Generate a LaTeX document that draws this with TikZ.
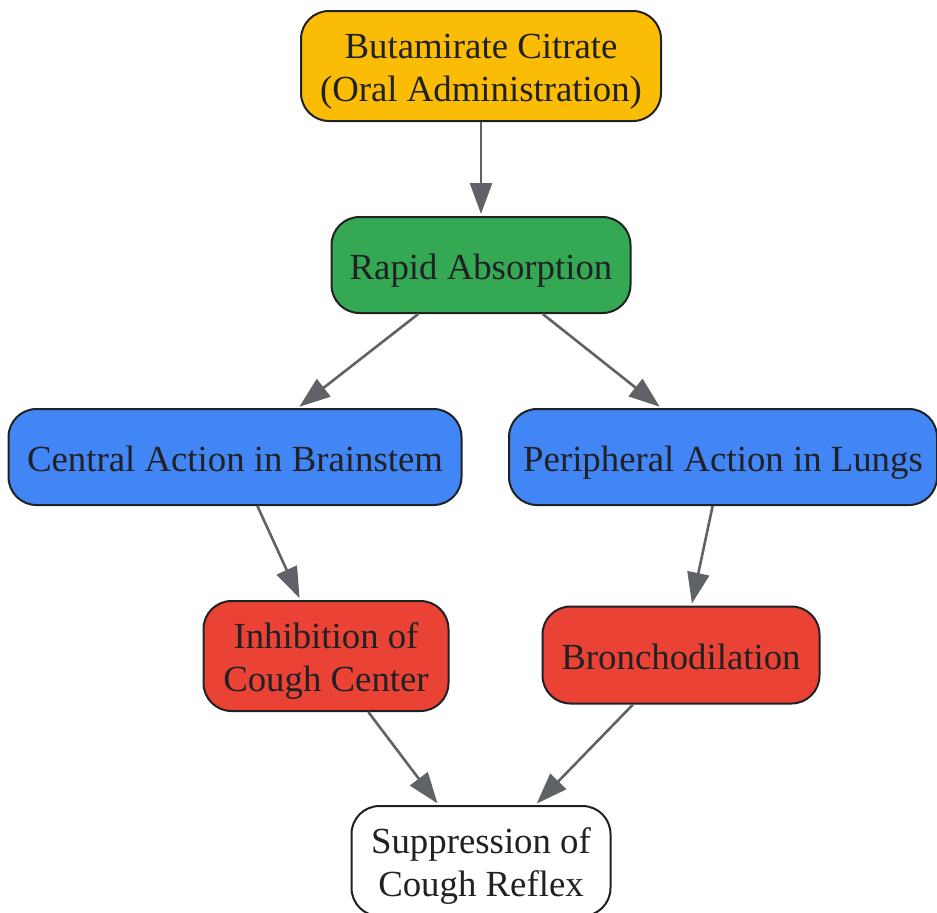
\documentclass[tikz,border=0pt]{standalone}
\usepackage{fontspec}
\setmainfont{Liberation Serif}
\usepackage{tikz}
\usetikzlibrary{%
  positioning
 ,arrows.meta
}
\definecolor{drugyellow}{HTML}{FBBC05}
\definecolor{absgreen}{HTML}{34A853}
\definecolor{actblue}{HTML}{4285F4}
\definecolor{effred}{HTML}{EA4335}
\definecolor{edgegray}{HTML}{5F6368}
\definecolor{inkdark}{HTML}{202124}
\newcommand{\stagestrut}{\rule[-5pt]{0pt}{24pt}}
\tikzstyle{flow}=[shorten >=1pt,on grid,inner sep=2pt]
\tikzstyle{stage}=[rectangle,rounded corners=14pt,draw=inkdark,line width=1pt,text=inkdark,align=center,inner sep=4pt,
  execute at begin node=\stagestrut,execute at end node=\stagestrut]
\tikzstyle{link}=[color=edgegray,line width=1.3pt,-{Triangle[length=15.5pt,width=11pt]}]

\begin{document}
\begin{tikzpicture}[flow,font=\fontsize{18.4pt}{21.75pt}\selectfont]
  \useasboundingbox (0,0) rectangle (468.5pt,-456pt);
  \node[stage,fill=drugyellow,minimum width=180pt,minimum height=55pt] (butamirate) at (240.5pt,-33pt) {\stagestrut Butamirate Citrate\\(Oral Administration)};
  \node[stage,fill=absgreen,minimum width=149.5pt,minimum height=48pt] (rapid) [below=99.5pt of butamirate] {Rapid Absorption};
  \node[stage,fill=actblue,minimum width=226.5pt,minimum height=48pt] (central) [below left=96pt and 123pt of rapid] {Central Action in Brainstem};
  \node[stage,fill=actblue,minimum width=214pt,minimum height=48pt] (peripheral) [below right=96pt and 121pt of rapid] {Peripheral Action in Lungs};
  \node[stage,fill=effred,minimum width=122.5pt,minimum height=55pt] (inhibition) [below right=99.5pt and 45.5pt of central] {\stagestrut Inhibition of\\Cough Center};
  \node[stage,fill=effred,minimum width=138.5pt,minimum height=48.5pt] (broncho) [below left=99pt and 21pt of peripheral] {Bronchodilation};
  \node[stage,fill=white,minimum width=129.5pt,minimum height=55pt] (suppression) [below=298pt of rapid] {\stagestrut Suppression of\\Cough Reflex};
% 
  \path[link]
  (butamirate) edge (rapid)
  (rapid) edge (central)
  (rapid) edge (peripheral)
  (central) edge (inhibition)
  (peripheral) edge (broncho)
  (inhibition) edge (suppression)
  (broncho) edge (suppression);
\end{tikzpicture}
\end{document}
